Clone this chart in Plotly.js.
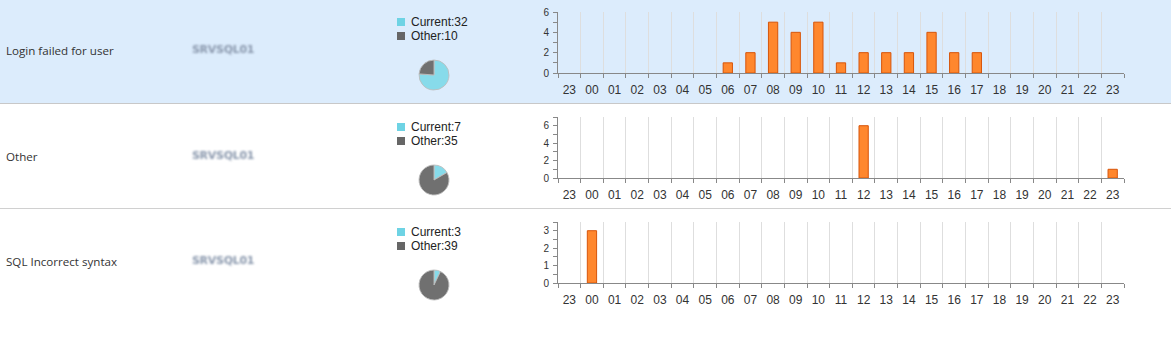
<!DOCTYPE html>
<html>
<head>
<meta charset="utf-8">
<script src="https://cdn.plot.ly/plotly-3.0.1.min.js"></script>
<style>
html,body{margin:0;padding:0;background:#fff;}
#wrap{position:relative;width:1171px;height:363px;}
#chart{width:1171px;height:363px;}
.blur{position:absolute;left:192px;font:bold 11px "DejaVu Sans",sans-serif;color:#8a98ad;filter:blur(1.3px);white-space:nowrap;letter-spacing:-0.3px;}
</style>
</head>
<body>
<div id="wrap">
<div id="chart"></div>
<div class="blur" style="top:43px;">SRVSQL01</div>
<div class="blur" style="top:149px;">SRVSQL01</div>
<div class="blur" style="top:254px;">SRVSQL01</div>
</div>
<script>
// ---- data ----
const rowNames = ["Login failed for user", "Other", "SQL Incorrect syntax"];
const hourLabels = ["23","00","01","02","03","04","05","06","07","08","09","10","11","12","13","14","15","16","17","18","19","20","21","22","23"];
const loginFailedCounts = [0,0,0,0,0,0,0,1,2,5,4,5,1,2,2,2,4,2,2,0,0,0,0,0,0];
const otherCounts       = [0,0,0,0,0,0,0,0,0,0,0,0,0,6,0,0,0,0,0,0,0,0,0,0,1];
const sqlSyntaxCounts   = [0,3,0,0,0,0,0,0,0,0,0,0,0,0,0,0,0,0,0,0,0,0,0,0,0];
const currentTotals = [32, 7, 3];
const otherTotals   = [10, 35, 39];
const yMaxes = [6, 7, 3.5];
const yDticks = [2, 2, 1];
const yMinor = [1, 1, 0.5];

// ---- layout helpers ----
const W = 1171, H = 363;
const px = x => x / W;
const py = y => 1 - y / H;
const rowTops = [0, 105, 210];
const seriesList = [loginFailedCounts, otherCounts, sqlSyntaxCounts];
const xIdx = hourLabels.map((_, i) => i);
const boundaries = hourLabels.concat(["x"]).map((_, i) => i - 0.5);

const CYAN = "rgb(110,211,228)";
const PIECYAN = "rgb(135,219,234)";
const GRAY = "rgb(102,102,102)";
const PIEGRAY = "rgb(112,112,112)";

const data = [];
const layout = {
  width: W, height: H,
  margin: {l:0, r:0, t:0, b:0},
  paper_bgcolor: "rgba(0,0,0,0)",
  plot_bgcolor: "rgba(0,0,0,0)",
  showlegend: false,
  shapes: [], annotations: [],
  font: {family: "Liberation Sans, Arial, sans-serif", color: "#333"}
};

// row backgrounds / separators
layout.shapes.push({type:"rect", xref:"paper", yref:"paper", x0:0, x1:1, y0:py(103), y1:py(0), fillcolor:"rgb(220,236,252)", line:{width:0}, layer:"below"});
layout.shapes.push({type:"line", xref:"paper", yref:"paper", x0:0, x1:1, y0:py(103.5), y1:py(103.5), line:{color:"rgb(200,200,200)", width:1}, layer:"below"});
layout.shapes.push({type:"line", xref:"paper", yref:"paper", x0:0, x1:1, y0:py(208.5), y1:py(208.5), line:{color:"rgb(208,208,208)", width:1}, layer:"below"});

for (let r = 0; r < 3; r++) {
  const t = rowTops[r];
  const xa = "x" + (r === 0 ? "" : (2*r + 1));
  const xb = "x" + (2*r + 2);
  const ya = "y" + (r === 0 ? "" : (r + 1));
  const xaName = "xaxis" + (r === 0 ? "" : (2*r + 1));
  const xbName = "xaxis" + (2*r + 2);
  const yaName = "yaxis" + (r === 0 ? "" : (r + 1));

  // row label
  layout.annotations.push({xref:"paper", yref:"paper", x:px(4), y:py(t + 51), xanchor:"left", yanchor:"middle",
    text: rowNames[r], showarrow:false, font:{family:"Open Sans, sans-serif", size:11.6, color:"#333"}});

  // legend for pie
  layout.shapes.push({type:"rect", xref:"paper", yref:"paper", x0:px(397), x1:px(405), y0:py(t+26), y1:py(t+18), fillcolor:CYAN, line:{width:0}});
  layout.shapes.push({type:"rect", xref:"paper", yref:"paper", x0:px(397), x1:px(405), y0:py(t+40), y1:py(t+32), fillcolor:GRAY, line:{width:0}});
  layout.annotations.push({xref:"paper", yref:"paper", x:px(409), y:py(t + 22), xanchor:"left", yanchor:"middle",
    text: "Current:" + currentTotals[r], showarrow:false, font:{size:12, color:"#222"}});
  layout.annotations.push({xref:"paper", yref:"paper", x:px(409), y:py(t + 36), xanchor:"left", yanchor:"middle",
    text: "Other:" + otherTotals[r], showarrow:false, font:{size:12, color:"#222"}});

  // pie
  data.push({type:"pie", values:[currentTotals[r], otherTotals[r]], labels:["Current","Other"],
    sort:false, direction:"clockwise", rotation:0, textinfo:"none", hoverinfo:"label+value",
    marker:{colors:[PIECYAN, PIEGRAY], line:{color:"rgba(190,190,190,0.9)", width:1}},
    domain:{x:[px(419), px(449)], y:[py(t + 90), py(t + 60)]}});

  // bars (zero counts draw no bar)
  data.push({type:"bar", x:xIdx, y:seriesList[r].map(v => v === 0 ? null : v), xaxis:xa, yaxis:ya, width:0.41,
    marker:{color:"rgb(255,135,45)", line:{color:"rgb(215,85,10)", width:1}}, hoverinfo:"y"});
  // invisible trace on label axis
  data.push({type:"scatter", x:xIdx, y:xIdx.map(()=>0), xaxis:xb, yaxis:ya, mode:"none", hoverinfo:"skip"});

  const plotTop = t + 12, plotBottom = t + 73;
  layout[xaName] = {domain:[px(558), px(1124)], range:[-0.5, 24.5], anchor:ya,
    tickmode:"array", tickvals:boundaries, showticklabels:false, ticks:"outside", ticklen:4, tickcolor:"#888",
    showgrid:true, gridcolor:"rgb(222,222,222)", gridwidth:1, showline:true, linecolor:"#888", linewidth:1, zeroline:false, fixedrange:true};
  layout[xbName] = {overlaying:xa, anchor:ya, range:[-0.5, 24.5], side:"bottom",
    tickmode:"array", tickvals:xIdx, ticktext:hourLabels, ticks:"", showgrid:false, showline:false, zeroline:false,
    tickfont:{size:12, color:"#333"}, ticklabelstandoff:8, fixedrange:true};
  layout[yaName] = {domain:[py(plotBottom), py(plotTop)], range:[0, yMaxes[r]], anchor:xa,
    tickmode:"linear", tick0:0, dtick:yDticks[r], ticks:"outside", ticklen:4, tickcolor:"#888",
    minor:{dtick:yMinor[r], tick0:0, ticks:"outside", ticklen:4, tickcolor:"#888", showgrid:false},
    showgrid:false, showline:true, linecolor:"#888", linewidth:1, zeroline:false,
    tickfont:{size:10, color:"#333"}, ticklabelstandoff:2, fixedrange:true};
}

Plotly.newPlot("chart", data, layout, {displayModeBar:false, staticPlot:true});
</script>
</body>
</html>
